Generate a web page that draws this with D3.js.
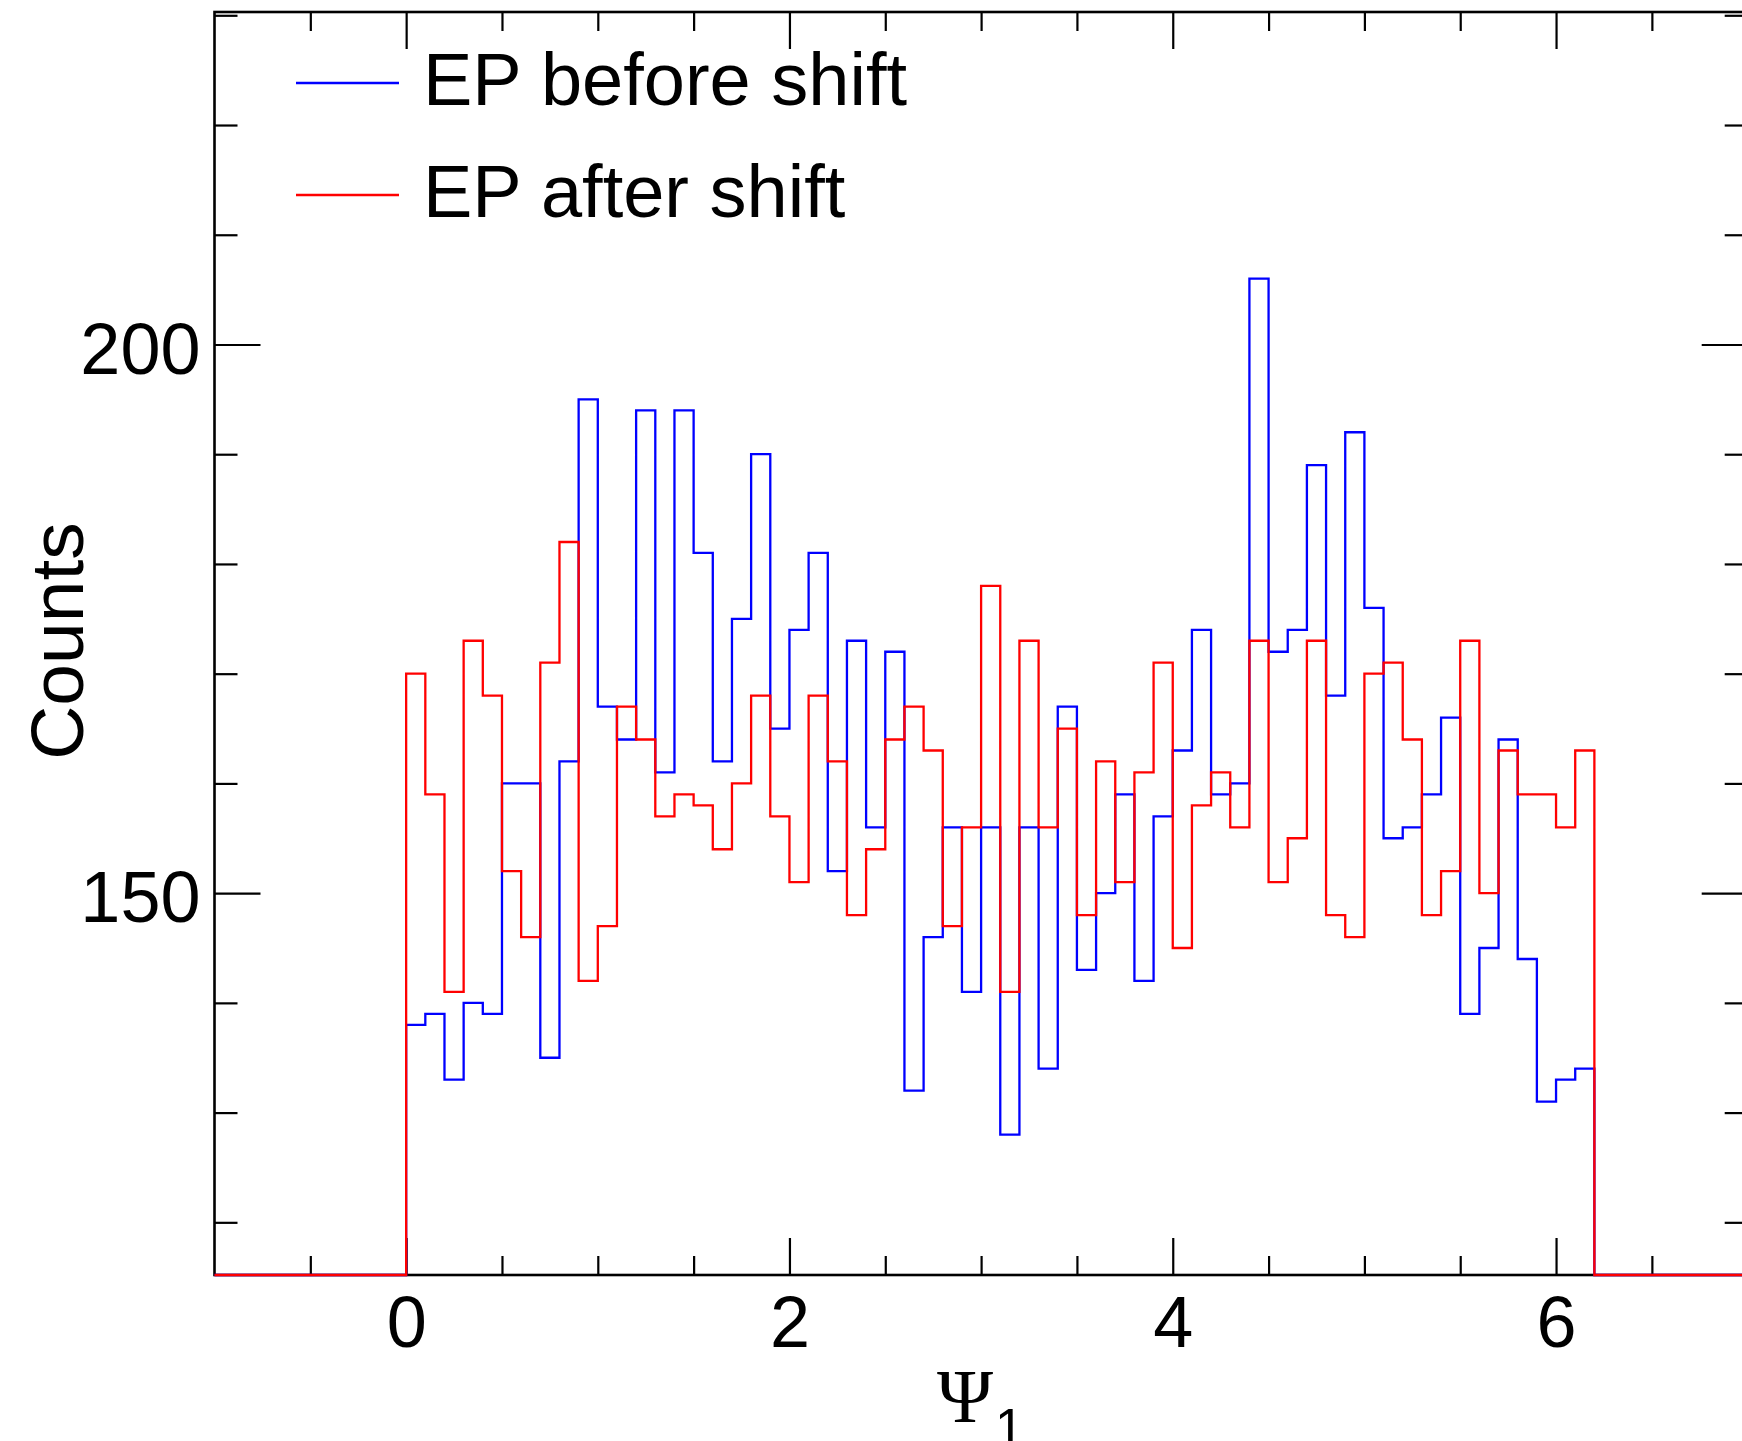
<!DOCTYPE html>
<html>
<head>
<meta charset="utf-8">
<script src="https://cdn.jsdelivr.net/npm/d3@7"></script>
<style>
  html, body { margin: 0; padding: 0; background: #fff; }
  svg { display: block; }
  text { font-family: "Liberation Sans", Arial, Helvetica, sans-serif; fill: #000; }
</style>
</head>
<body>
<svg id="chart" width="1742" height="1441"></svg>
<script>
// Event-plane angle histogram, 62 bins of width 0.1 starting at 0
const binWidth = 0.1;
const binLow = d3.range(62).map(i => +(i * binWidth).toFixed(1));

const countsBefore = [
  138, 139, 133, 140, 139, 160, 160, 135, 162, 195,
  167, 164, 194, 161, 194, 181, 162, 175, 190, 165,
  174, 181, 152, 173, 156, 172, 132, 146, 156, 141,
  156, 128, 156, 134, 167, 143, 150, 159, 142, 157,
  163, 174, 159, 160, 206, 172, 174, 189, 168, 192,
  176, 155, 156, 159, 166, 139, 145, 164, 144, 131,
  133, 134
];

const countsAfter = [
  170, 159, 141, 173, 168, 152, 146, 171, 182, 142,
  147, 167, 164, 157, 159, 158, 154, 160, 168, 157,
  151, 168, 162, 148, 154, 164, 167, 163, 147, 156,
  178, 141, 173, 156, 165, 148, 162, 151, 161, 171,
  145, 158, 161, 156, 173, 151, 155, 173, 148, 146,
  170, 171, 164, 148, 152, 173, 150, 163, 159, 159,
  156, 163
];

const seriesNames = ["EP before shift", "EP after shift"];
const seriesColors = ["#0000ff", "#ff0000"];

const xMajorTicks = [0, 2, 4, 6];
const xMinorTicks = [-0.5, 0.5, 1, 1.5, 2.5, 3, 3.5, 4.5, 5, 5.5, 6.5];
const yMajorTicks = [150, 200];
const yMinorTicks = [120, 130, 140, 160, 170, 180, 190, 210, 220, 230];

const svg = d3.select("#chart");
svg.append("rect").attr("width", 1742).attr("height", 1441).attr("fill", "#fff");

const plotLeft = 214.5, plotRight = 1747.7, plotTop = 12, plotBottom = 1275;
const x = d3.scaleLinear().domain([-1, 7]).range([plotLeft, plotRight]);
const y = d3.scaleLinear().domain([115.2, 230.3]).range([plotBottom, plotTop]).clamp(true);

// frame
svg.append("rect")
  .attr("x", plotLeft).attr("y", plotTop)
  .attr("width", plotRight - plotLeft).attr("height", plotBottom - plotTop)
  .attr("fill", "none").attr("stroke", "#000").attr("stroke-width", 2.6);

// Axes with inward-pointing ticks on all four sides
function styleAxis(g) {
  g.select(".domain").remove();
  g.selectAll(".tick line").attr("stroke", "#000").attr("stroke-width", 2.2);
}

const fmtNone = () => "";

// bottom
svg.append("g").attr("transform", `translate(0,${plotBottom})`)
  .call(d3.axisBottom(x).tickValues(xMinorTicks).tickSize(-19).tickFormat(fmtNone))
  .call(styleAxis);
const xb = svg.append("g").attr("transform", `translate(0,${plotBottom})`)
  .call(d3.axisBottom(x).tickValues(xMajorTicks).tickSize(-37).tickPadding(21).tickFormat(d3.format("d")))
  .call(styleAxis);
xb.selectAll(".tick text").attr("font-size", 72).attr("font-family", "Liberation Sans, Arial, sans-serif");

// top
svg.append("g").attr("transform", `translate(0,${plotTop})`)
  .call(d3.axisTop(x).tickValues(xMinorTicks).tickSize(-19).tickFormat(fmtNone))
  .call(styleAxis);
svg.append("g").attr("transform", `translate(0,${plotTop})`)
  .call(d3.axisTop(x).tickValues(xMajorTicks).tickSize(-37).tickFormat(fmtNone))
  .call(styleAxis);

// left
svg.append("g").attr("transform", `translate(${plotLeft},0)`)
  .call(d3.axisLeft(y).tickValues(yMinorTicks).tickSize(-23).tickFormat(fmtNone))
  .call(styleAxis);
const yl = svg.append("g").attr("transform", `translate(${plotLeft},0)`)
  .call(d3.axisLeft(y).tickValues(yMajorTicks).tickSize(-46).tickPadding(14).tickFormat(d3.format("d")))
  .call(styleAxis);
yl.selectAll(".tick text").attr("font-size", 72).attr("dy", "0.40em")
  .attr("font-family", "Liberation Sans, Arial, sans-serif");

// right
svg.append("g").attr("transform", `translate(${plotRight},0)`)
  .call(d3.axisRight(y).tickValues(yMinorTicks).tickSize(-23).tickFormat(fmtNone))
  .call(styleAxis);
svg.append("g").attr("transform", `translate(${plotRight},0)`)
  .call(d3.axisRight(y).tickValues(yMajorTicks).tickSize(-46).tickFormat(fmtNone))
  .call(styleAxis);

// Histogram outlines: empty range outside the bins sits on the lower frame edge
function stepPoints(vals) {
  const pts = [[-1, 0]];
  vals.forEach((v, i) => pts.push([binLow[i], v]));
  pts.push([binLow[binLow.length - 1] + binWidth, 0]);
  pts.push([7, 0]);
  return pts;
}
const line = d3.line().x(d => x(d[0])).y(d => y(d[1])).curve(d3.curveStepAfter);

[countsBefore, countsAfter].forEach((vals, k) => {
  svg.append("path")
    .datum(stepPoints(vals))
    .attr("d", line)
    .attr("fill", "none")
    .attr("stroke", seriesColors[k])
    .attr("stroke-width", 2.3)
    .attr("stroke-linejoin", "miter");
});

// axis titles
svg.append("text")
  .attr("transform", "translate(83,641) rotate(-90)")
  .attr("text-anchor", "middle")
  .attr("font-size", 75)
  .text("Counts");

const xt = svg.append("text").attr("x", 937).attr("y", 1422);
xt.append("tspan").attr("font-family", "Liberation Serif, Times New Roman, serif").attr("font-size", 76).text("Ψ");
xt.append("tspan").attr("dx", 2).attr("dy", 23).attr("font-size", 52).text("1");

// legend
const legend = svg.append("g");
seriesNames.forEach((name, i) => {
  const ly = 83 + i * 112;
  legend.append("line")
    .attr("x1", 296).attr("x2", 399).attr("y1", ly).attr("y2", ly)
    .attr("stroke", seriesColors[i]).attr("stroke-width", 2.4);
  legend.append("text")
    .attr("x", 423).attr("y", ly + 22)
    .attr("font-size", 74)
    .text(name);
});
</script>
</body>
</html>
